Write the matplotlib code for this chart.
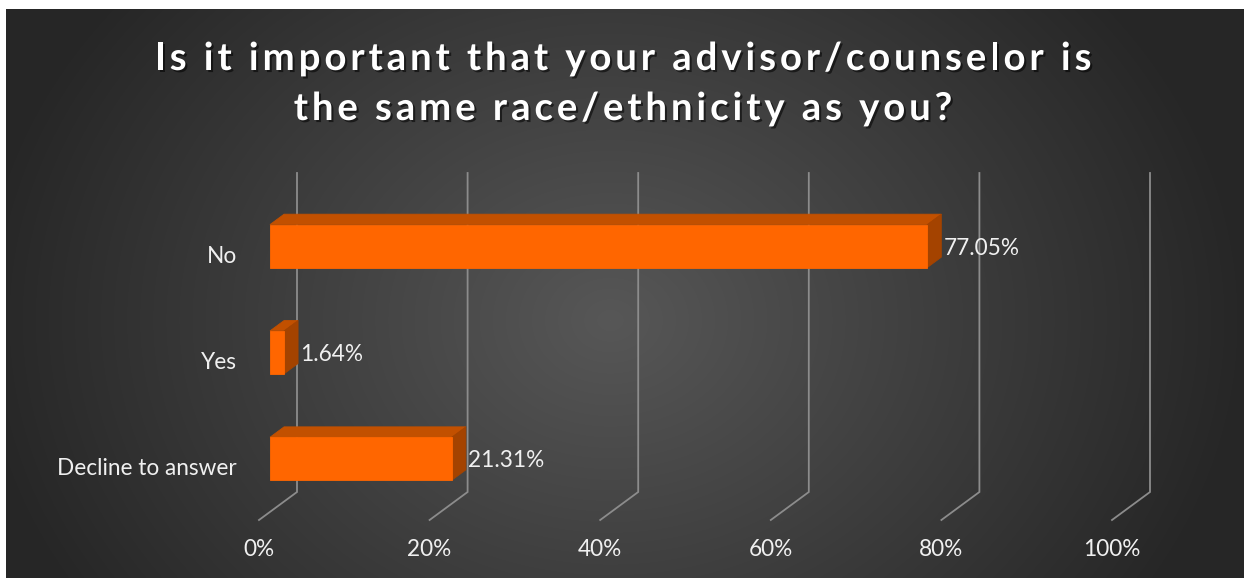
import numpy as np
import matplotlib
matplotlib.use('Agg')
import matplotlib.pyplot as plt
from matplotlib.patches import Polygon
import matplotlib.patheffects as pe

# ---------------- data ----------------
categories = ['Decline to answer', 'Yes', 'No']   # bottom -> top
values = [21.31, 1.64, 77.05]
value_labels = ['21.31%', '1.64%', '77.05%']
xticks = [0, 20, 40, 60, 80, 100]
xtick_labels = ['0%', '20%', '40%', '60%', '80%', '100%']
title_lines = ['Is it important that your advisor/counselor is',
               'the same race/ethnicity as you?']

# ---------------- figure ----------------
W, H = 1244, 578
DPI = 100
fig = plt.figure(figsize=(W / DPI, H / DPI), dpi=DPI, facecolor='white')
renderer = fig.canvas.get_renderer()

FONT = 'Lato'

# background radial gradient
bx0, by_top = 6, 9
bw, bh = W - bx0, H - by_top
bg = fig.add_axes([bx0 / W, 0, bw / W, bh / H])
yy, xx = np.mgrid[0:bh, 0:bw]
cx, cy = 610 - bx0, 320 - by_top
tt = np.clip(np.sqrt(((xx - cx) / 640.0) ** 2 + ((yy - cy) / 520.0) ** 2), 0, 1)
c = (0x57 + (0x26 - 0x57) * tt) / 255.0
bg.imshow(np.dstack([c, c, c]), aspect='auto', interpolation='bilinear')
bg.set_axis_off()

# main axes (front plane of the 3D floor)
left_px, right_px = 259, 1112
top_px, bot_px = 201, 520
ax = fig.add_axes([left_px / W, (H - bot_px) / H,
                   (right_px - left_px) / W, (bot_px - top_px) / H])
ax.set_xlim(0, 100)
ax.set_ylim(-0.5, len(categories) - 0.5)
ax.patch.set_alpha(0)
for s in ax.spines.values():
    s.set_visible(False)

ux = 100.0 / (right_px - left_px)          # data units per pixel (x)
uy = len(categories) / (bot_px - top_px)   # data units per pixel (y)

depth_dx, depth_dy = 38 * ux, 28 * uy      # full floor depth
f0, f1 = 0.29, 0.66                        # bar depth band
fx, fy = depth_dx * f0, depth_dy * f0
bxo, byo = depth_dx * f1, depth_dy * f1
bar_h = 43 * uy

# gridlines (3D walls)
ymin, ymax = -0.5, len(categories) - 0.5
for t in xticks:
    ax.plot([t, t + depth_dx, t + depth_dx],
            [ymin, ymin + depth_dy, ymax + depth_dy],
            color='#8c8c8c', lw=1.3, clip_on=False, zorder=1,
            solid_joinstyle='miter')

front_c, top_c, side_c = '#FF6600', '#C25000', '#A44300'
for i, v in enumerate(values):
    y0, y1 = i - bar_h / 2, i + bar_h / 2
    front = [(fx, y0 + fy), (v + fx, y0 + fy), (v + fx, y1 + fy), (fx, y1 + fy)]
    top = [(fx, y1 + fy), (v + fx, y1 + fy), (v + bxo, y1 + byo), (bxo, y1 + byo)]
    side = [(v + fx, y0 + fy), (v + bxo, y0 + byo), (v + bxo, y1 + byo), (v + fx, y1 + fy)]
    for pts, col in ((top, top_c), (side, side_c), (front, front_c)):
        ax.add_patch(Polygon(pts, closed=True, facecolor=col, edgecolor=col,
                             lw=0.6, zorder=3, clip_on=False))
    ax.annotate(value_labels[i], xy=(v + bxo, i + fy), xytext=(2, -2),
                textcoords='offset pixels', ha='left', va='center',
                color='#f0f0f0', fontsize=0.1, family=FONT, zorder=4,
                annotation_clip=False)


def text_width(text, size, **kw):
    t = fig.text(0, 0, text, fontsize=size, **kw)
    w = t.get_window_extent(renderer).width
    t.remove()
    return w


lab_fs = 10.0 * 180 / text_width('Decline to answer', 10, family=FONT)
for txt in ax.texts:
    txt.set_fontsize(lab_fs)

ax.set_yticks(range(len(categories)), categories)
ax.set_xticks(xticks, xtick_labels)
ax.tick_params(axis='y', length=0, pad=22 * 0.72, labelsize=lab_fs, labelcolor='#f0f0f0')
ax.tick_params(axis='x', length=0, pad=30 * 0.72, labelsize=lab_fs, labelcolor='#f0f0f0')
for lab in ax.get_xticklabels() + ax.get_yticklabels():
    lab.set_family(FONT)
for lab in ax.get_xticklabels():
    lab.set_verticalalignment('center')

# title, letter-spaced (drawn glyph by glyph)
cap_px = 27.5
title_fs = cap_px / 0.717 * 0.72   # points
tkw = dict(family=FONT, fontweight='bold')
bar_w = text_width('|', title_fs, **tkw)
nat0 = text_width(title_lines[0], title_fs, **tkw)
spacing = max(0.0, (937 - nat0) / (len(title_lines[0]) - 1))
shadow = [pe.SimplePatchShadow(offset=(1.5, -1.5), shadow_rgbFace='black', alpha=0.55),
          pe.Normal()]
center_x = 623
for line, base in zip(title_lines, [70, 120]):
    nat = text_width(line, title_fs, **tkw)
    total = nat + spacing * (len(line) - 1)
    x0 = center_x - total / 2
    for k, ch in enumerate(line):
        if ch == ' ':
            continue
        adv = 0.0 if k == 0 else text_width(line[:k] + '|', title_fs, **tkw) - bar_w
        fig.text((x0 + adv + spacing * k) / W, 1 - base / H, ch,
                 ha='left', va='baseline', fontsize=title_fs, color='white',
                 path_effects=shadow, **tkw)

fig.savefig('out.png', dpi=DPI, facecolor='white')
